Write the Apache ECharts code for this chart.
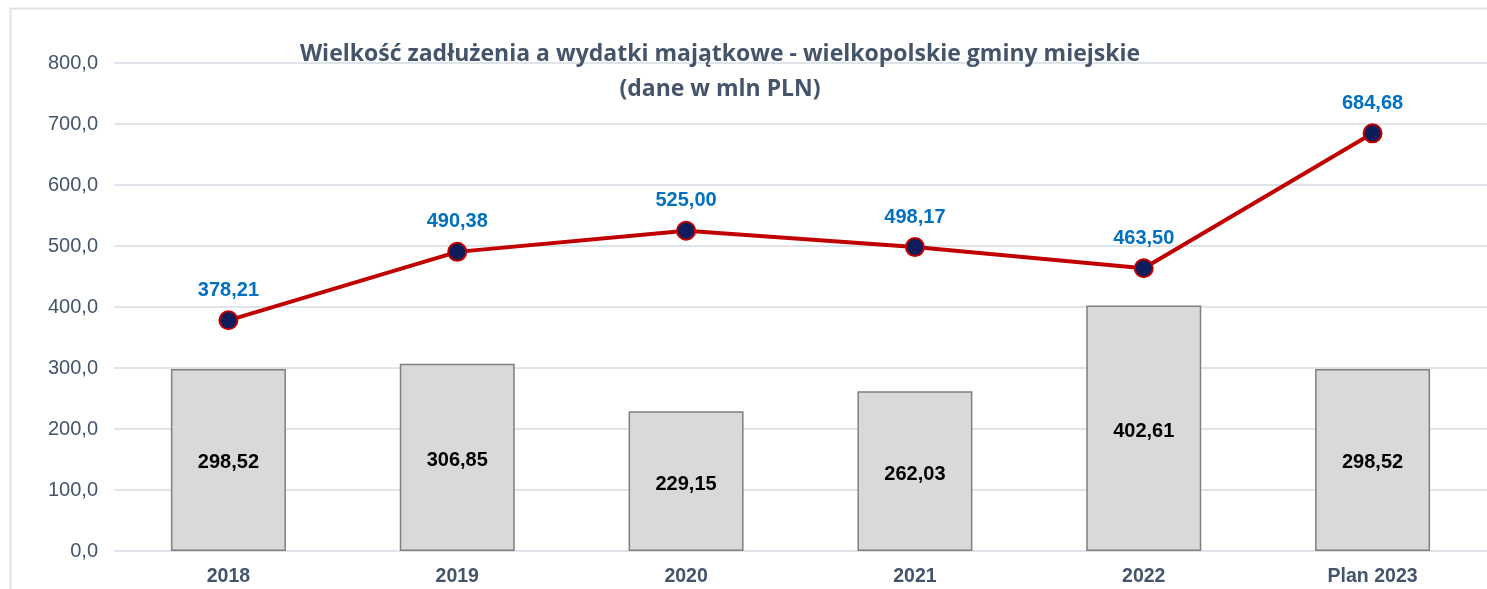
<!DOCTYPE html>
<html>
<head>
<meta charset="utf-8">
<script src="https://cdn.jsdelivr.net/npm/echarts@6/dist/echarts.min.js"></script>
<style>
  html, body { margin: 0; padding: 0; background: #fff; }
  #main { width: 1487px; height: 589px; }
</style>
</head>
<body>
<div id="main"></div>
<script>
const categories = ["2018", "2019", "2020", "2021", "2022", "Plan 2023"];
const wydatkiMajatkowe = [298.52, 306.85, 229.15, 262.03, 402.61, 298.52];
const zadluzenie = [378.21, 490.38, 525.0, 498.17, 463.5, 684.68];

const fmt = (v, d) => v.toFixed(d).replace(".", ",");

let myChart = echarts.init(document.getElementById("main"));

let option = {
  animation: false,
  title: {
    text: "Wielkość zadłużenia a wydatki majątkowe - wielkopolskie gminy miejskie\n(dane w mln PLN)",
    left: 715,
    textAlign: "center",
    top: 32,
    textStyle: {
      fontFamily: "Open Sans",
      fontWeight: "bold",
      fontSize: 23,
      color: "#44546a",
      lineHeight: 35
    }
  },
  graphic: [
    {
      type: "rect",
      shape: { x: 10.5, y: 8.5, width: 1500, height: 600 },
      style: { fill: "none", stroke: "#dde1e6", lineWidth: 2 },
      silent: true
    }
  ],
  grid: {
    left: 114,
    right: 0,
    top: 63,
    bottom: 38
  },
  xAxis: {
    type: "category",
    data: categories,
    axisLine: { show: false },
    axisTick: { show: false },
    axisLabel: {
      fontFamily: "Liberation Sans",
      fontWeight: "bold",
      fontSize: 19.5,
      color: "#44546a",
      margin: 16
    }
  },
  yAxis: {
    type: "value",
    min: 0,
    max: 800,
    interval: 100,
    axisLine: { show: false },
    axisTick: { show: false },
    splitLine: { lineStyle: { color: "#dfe3ea", width: 2 } },
    axisLabel: {
      fontFamily: "Liberation Sans",
      fontSize: 20,
      color: "#44546a",
      margin: 16,
      formatter: v => fmt(v, 1)
    }
  },
  series: [
    {
      name: "Wydatki majątkowe",
      type: "bar",
      data: wydatkiMajatkowe,
      barWidth: 115,
      itemStyle: {
        color: "#d9d9d9",
        borderColor: "#7f7f7f",
        borderWidth: 1.5
      },
      label: {
        show: true,
        position: "inside",
        offset: [0, 3],
        formatter: p => fmt(p.value, 2),
        fontFamily: "Liberation Sans",
        fontWeight: "bold",
        fontSize: 20,
        color: "#000"
      }
    },
    {
      name: "Zadłużenie",
      type: "line",
      data: zadluzenie,
      symbol: "circle",
      symbolSize: 18,
      lineStyle: { color: "#c00000", width: 4 },
      itemStyle: {
        color: "#0d1d5c",
        borderColor: "#c00000",
        borderWidth: 2
      },
      label: {
        show: true,
        position: "top",
        distance: 10,
        formatter: p => fmt(p.value, 2),
        fontFamily: "Liberation Sans",
        fontWeight: "bold",
        fontSize: 20,
        color: "#0070c0"
      },
      z: 5
    }
  ]
};

myChart.setOption(option);
</script>
</body>
</html>
